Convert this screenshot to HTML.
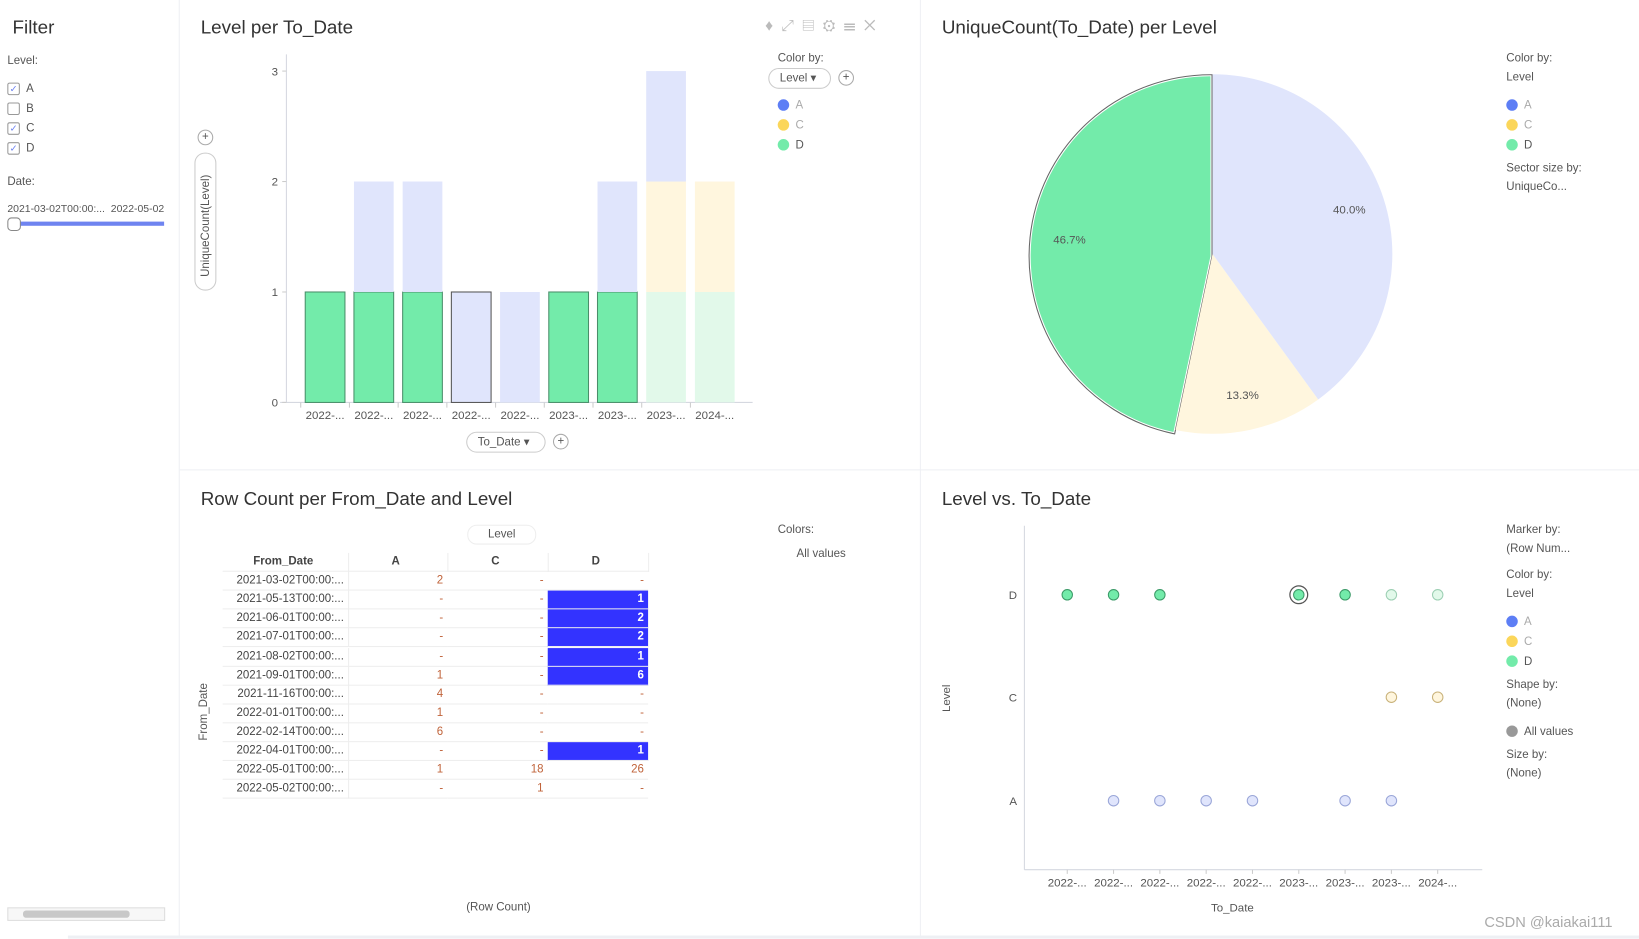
<!DOCTYPE html>
<html><head><meta charset="utf-8"><style>
body{margin:0;width:1639px;height:938px;background:#fff;font-family:"Liberation Sans",sans-serif;color:#555;position:relative;overflow:hidden}
#root{position:absolute;left:0;top:0;width:1568px;height:897px;transform:scale(1.0453);transform-origin:0 0}
.a{position:absolute;white-space:nowrap}
.t{font-size:18px;color:#333}
.s{font-size:11px}
.cb{position:absolute;width:10px;height:10px;border:1px solid #999;border-radius:2px;font-size:9px;color:#6a7ff0;line-height:10px;text-align:center}
.dot{position:absolute;width:11px;height:11px;border-radius:50%}
</style></head><body>
<div id="root">
<div class="a" style="left:171px;top:0;width:1px;height:895px;background:#eef0f4"></div>
<div class="a" style="left:880px;top:0;width:1px;height:895px;background:#eef0f4"></div>
<div class="a" style="left:172px;top:449px;width:1467px;height:1px;background:#eef0f4"></div>
<div class="a" style="left:65px;top:895px;width:1574px;height:3px;background:#eef0f4"></div>

<!-- Filter -->
<div class="a t" style="left:12px;top:16px">Filter</div>
<div class="a s" style="left:7px;top:52px">Level:</div>
<div class="cb" style="left:7px;top:79px">✓</div><div class="a s" style="left:25px;top:79px">A</div>
<div class="cb" style="left:7px;top:98px"></div><div class="a s" style="left:25px;top:98px">B</div>
<div class="cb" style="left:7px;top:117px">✓</div><div class="a s" style="left:25px;top:117px">C</div>
<div class="cb" style="left:7px;top:136px">✓</div><div class="a s" style="left:25px;top:136px">D</div>
<div class="a s" style="left:7px;top:168px">Date:</div>
<div class="a" style="left:7px;top:195px;font-size:10px">2021-03-02T00:00:...&nbsp; 2022-05-02</div>
<div class="a" style="left:14px;top:212px;width:143px;height:4px;background:#6f84f0"></div>
<div class="a" style="left:7px;top:208px;width:11px;height:11px;border:1px solid #888;border-radius:4px;background:#fff"></div>
<div class="a" style="left:7px;top:868px;width:149px;height:11px;border:1px solid #ddd;background:#f7f7f7"><div style="position:absolute;left:14px;top:2px;width:102px;height:7px;background:#c8c8c8;border-radius:3px"></div></div>

<!-- Bar chart -->
<div class="a t" style="left:192px;top:16px">Level per To_Date</div>
<div class="a" style="left:732px;top:16px;font-size:15px;color:#bbb;letter-spacing:8px">♦⤢▤⚙☰✕</div>
<div class="a s" style="left:744px;top:50px">Color by:</div>
<div class="a s" style="left:735px;top:65px;width:58px;height:18px;border:1px solid #ccc;border-radius:10px;line-height:18px;text-indent:10px">Level ▾</div>
<div class="a s" style="left:802px;top:67px;width:13px;height:13px;border:1px solid #aaa;border-radius:50%;text-align:center;line-height:13px">+</div>
<div class="dot" style="left:744px;top:95px;background:#5d7ef5"></div><div class="a s" style="left:761px;top:95px;color:#aaa">A</div>
<div class="dot" style="left:744px;top:114px;background:#fbd65a"></div><div class="a s" style="left:761px;top:114px;color:#aaa">C</div>
<div class="dot" style="left:744px;top:133px;background:#73ebaa"></div><div class="a s" style="left:761px;top:133px">D</div>
<div class="a s" style="left:446px;top:413px;width:74px;height:18px;border:1px solid #ccc;border-radius:10px;line-height:18px;text-indent:10px">To_Date ▾</div>
<div class="a s" style="left:529px;top:415px;width:13px;height:13px;border:1px solid #aaa;border-radius:50%;text-align:center;line-height:13px">+</div>
<div class="a s" style="left:189px;top:124px;width:13px;height:13px;border:1px solid #aaa;border-radius:50%;text-align:center;line-height:13px">+</div>
<div class="a" style="left:186px;top:146px;width:19px;height:130px;border:1px solid #ccc;border-radius:10px"></div>
<div class="a s" style="left:142px;top:210px;transform:rotate(-90deg);width:110px;text-align:center">UniqueCount(Level)</div>
<svg class="a" style="left:0;top:0" width="880" height="449" id="bar"></svg>

<!-- Pie -->
<div class="a t" style="left:901px;top:16px">UniqueCount(To_Date) per Level</div>
<svg class="a" style="left:881px;top:0" width="560" height="449" id="pie"></svg>
<div class="a s" style="left:1441px;top:50px">Color by:</div>
<div class="a s" style="left:1441px;top:68px">Level</div>
<div class="dot" style="left:1441px;top:95px;background:#5d7ef5"></div><div class="a s" style="left:1458px;top:95px;color:#aaa">A</div>
<div class="dot" style="left:1441px;top:114px;background:#fbd65a"></div><div class="a s" style="left:1458px;top:114px;color:#aaa">C</div>
<div class="dot" style="left:1441px;top:133px;background:#73ebaa"></div><div class="a s" style="left:1458px;top:133px">D</div>
<div class="a s" style="left:1441px;top:155px">Sector size by:</div>
<div class="a s" style="left:1441px;top:173px">UniqueCo...</div>

<!-- Table -->
<div class="a t" style="left:192px;top:467px">Row Count per From_Date and Level</div>
<div class="a s" style="left:447px;top:502px;width:64px;height:17px;border:1px solid #eee;border-radius:9px;text-align:center;line-height:17px">Level</div>
<div class="a s" style="left:744px;top:501px">Colors:</div>
<div class="a s" style="left:762px;top:524px">All values</div>
<div class="a s" style="left:160px;top:675px;transform:rotate(-90deg);width:70px;text-align:center">From_Date</div>
<div class="a s" style="left:446px;top:862px">(Row Count)</div>
<div id="tbl"></div>

<!-- Scatter -->
<div class="a t" style="left:901px;top:467px">Level vs. To_Date</div>
<svg class="a" style="left:881px;top:450px" width="560" height="440" id="sc"></svg>
<div class="a s" style="left:1441px;top:501px">Marker by:</div>
<div class="a s" style="left:1441px;top:519px">(Row Num...</div>
<div class="a s" style="left:1441px;top:544px">Color by:</div>
<div class="a s" style="left:1441px;top:562px">Level</div>
<div class="dot" style="left:1441px;top:589px;background:#5d7ef5"></div><div class="a s" style="left:1458px;top:589px;color:#aaa">A</div>
<div class="dot" style="left:1441px;top:608px;background:#fbd65a"></div><div class="a s" style="left:1458px;top:608px;color:#aaa">C</div>
<div class="dot" style="left:1441px;top:627px;background:#73ebaa"></div><div class="a s" style="left:1458px;top:627px">D</div>
<div class="a s" style="left:1441px;top:649px">Shape by:</div>
<div class="a s" style="left:1441px;top:667px">(None)</div>
<div class="dot" style="left:1441px;top:694px;background:#999"></div><div class="a s" style="left:1458px;top:694px">All values</div>
<div class="a s" style="left:1441px;top:716px">Size by:</div>
<div class="a s" style="left:1441px;top:734px">(None)</div>
<div class="a" style="left:1420px;top:874px;font-size:14px;color:#aaa">CSDN @kaiakai111</div>
</div>

<script>
const NS='http://www.w3.org/2000/svg';
function mk(p,tag,at){const e=document.createElementNS(NS,tag);for(const k in at)e.setAttribute(k,at[k]);p.appendChild(e);return e;}
// ---- bar data
const barCats=['2022-...','2022-...','2022-...','2022-...','2022-...','2023-...','2023-...','2023-...','2024-...'];
const barD=[1,1,1,0,0,1,1,1,1];
const barC=[0,0,0,0,0,0,0,1,1];
const barA=[0,1,1,1,1,0,1,1,0];
const barDFaded=[0,0,0,0,0,0,0,1,1];
const barTicks=[0,1,2,3];
// ---- pie data
const pieLabels=['D','C','A'];
const pieValues=[46.7,13.3,40.0];
// ---- table data
const tblDates=['2021-03-02T00:00:...','2021-05-13T00:00:...','2021-06-01T00:00:...','2021-07-01T00:00:...','2021-08-02T00:00:...','2021-09-01T00:00:...','2021-11-16T00:00:...','2022-01-01T00:00:...','2022-02-14T00:00:...','2022-04-01T00:00:...','2022-05-01T00:00:...','2022-05-02T00:00:...'];
const tblA=[2,null,null,null,null,1,4,1,6,null,1,null];
const tblC=[null,null,null,null,null,null,null,null,null,null,18,1];
const tblD=[null,1,2,2,1,6,null,null,null,1,26,null];
const tblHighlightD=[0,1,1,1,1,1,0,0,0,1,0,0];
// ---- scatter data
const scCats=['2022-...','2022-...','2022-...','2022-...','2022-...','2023-...','2023-...','2023-...','2024-...'];
const scLevels=['A','C','D'];
const scPoints=[[0,'D',1],[1,'D',1],[2,'D',1],[5,'D',2],[6,'D',1],[7,'D',0],[8,'D',0],[7,'C',0],[8,'C',0],[1,'A',0],[2,'A',0],[3,'A',0],[4,'A',0],[6,'A',0],[7,'A',0]];

// bar chart
(function(){
const s=document.getElementById('bar');
const x0=274,x1=720,y0=385,yTop=68,step=46.6,bw=38;
const y=v=>y0-v*(y0-yTop)/3;
const cx=i=>311+i*step;
mk(s,'line',{x1:x0,y1:52,x2:x0,y2:y0,stroke:'#d5d8e0'});
mk(s,'line',{x1:268,y1:y0,x2:x1,y2:y0,stroke:'#d5d8e0'});
barTicks.forEach(t=>{mk(s,'line',{x1:x0-4,y1:y(t),x2:x0,y2:y(t),stroke:'#ccc'});
 const tx=mk(s,'text',{x:x0-8,y:y(t)+4,'text-anchor':'end','font-size':11,fill:'#555','font-family':'Liberation Sans'});tx.textContent=t;
 
 });
barCats.forEach((c,i)=>{
 mk(s,'line',{x1:cx(i)-step/2,y1:y0,x2:cx(i)-step/2,y2:y0+5,stroke:'#ccc'});
 let b=0;
 const seg=(v,fill,stroke,name)=>{if(!v)return;const r=mk(s,'rect',{x:cx(i)-bw/2,y:y(b+v),width:bw,height:y(b)-y(b+v),fill:fill,stroke:stroke||'none'});
  
  b+=v;};
 seg(barD[i],barDFaded[i]?'#e2f9ea':'#73ebaa',barDFaded[i]?null:'#4a8f6a','bar-d-'+i);
 seg(barC[i],'#fff6de',null,'bar-c-'+i);
 seg(barA[i],'#e0e5fc',i===3?'#555':null,'bar-a-'+i);
 const tx=mk(s,'text',{x:cx(i),y:y0+16,'text-anchor':'middle','font-size':11,fill:'#555','font-family':'Liberation Sans'});tx.textContent=c;
 
 
});
})();

// pie
(function(){
const s=document.getElementById('pie');
const cx=279,cy=243,r=172;
const cols={D:'#73ebaa',C:'#fff6de',A:'#e0e5fc'};
const tot=pieValues.reduce((a,b)=>a+b,0);
let a=0;
const pt=(ang,rr,ox,oy)=>[cx+ox+rr*Math.sin(ang),cy+oy-rr*Math.cos(ang)];
pieLabels.forEach((l,i)=>{
 const sweep=pieValues[i]/tot*2*Math.PI;
 const a0=-a-sweep,a1=-a;
 const off=l==='D'?[-2,2]:[0,0];
 const p0=pt(a0,r,...off),p1=pt(a1,r,...off);
 const big=sweep>Math.PI?1:0;
 const d=`M${cx+off[0]},${cy+off[1]} L${p0[0]},${p0[1]} A${r},${r} 0 ${big} 1 ${p1[0]},${p1[1]} Z`;
 if(l==='D'){const p=mk(s,'path',{d:d,fill:'none',stroke:'#666','stroke-width':4});
  mk(s,'path',{d:d,fill:'none',stroke:'#fff','stroke-width':2});}
 const p=mk(s,'path',{d:d,fill:cols[l]});
 
 
 const mid=(a0+a1)/2;const lp=pt(mid,r*0.8,0,0);
 const tx=mk(s,'text',{x:lp[0],y:lp[1]+4,'text-anchor':'middle','font-size':11,fill:'#555','font-family':'Liberation Sans'});
 tx.textContent=pieValues[i].toFixed(1)+'%';
 
 
 a+=sweep;
});
})();

// table
(function(){
const host=document.getElementById('tbl');
const cols=[[213,120],[333,95],[428,96],[524,96]];
const top0=529,rh=18.1;
function cell(x,w,y,txt,align,extra,name){const d=document.createElement('div');d.className='a s';
 d.style.cssText=`left:${x}px;top:${y}px;width:${w-4}px;height:17px;line-height:17px;text-align:${align};padding-right:4px;border-bottom:1px solid #eee;${extra||''}`;
 d.textContent=txt;
 
 
 host.appendChild(d);}
['From_Date','A','C','D'].forEach((h,i)=>cell(cols[i][0],cols[i][1],top0,h,'center','font-weight:bold;color:#444;border-right:1px solid #eee','header-'+h.toLowerCase()));
const f=v=>v==null?'-':String(v);
tblDates.forEach((d,r)=>{const y=top0+(r+1)*rh;
 cell(cols[0][0],cols[0][1],y,d,'right','color:#444;border-right:1px solid #eee','row-date');
 cell(cols[1][0],cols[1][1],y,f(tblA[r]),'right','color:#c0633a','cell-a');
 cell(cols[2][0],cols[2][1],y,f(tblC[r]),'right','color:#c0633a','cell-c');
 cell(cols[3][0],cols[3][1],y,f(tblD[r]),'right',tblHighlightD[r]?'background:#3333ff;color:#fff;font-weight:bold':'color:#c0633a','cell-d');
});
})();

// scatter
(function(){
const s=document.getElementById('sc');
const ax=99,ay0=382,ayTop=53,axEnd=537;
const x=i=>140+i*44.3;
const yl={D:119,C:217,A:316};
mk(s,'line',{x1:ax,y1:ayTop,x2:ax,y2:ay0,stroke:'#d5d8e0'});
mk(s,'line',{x1:ax,y1:ay0,x2:axEnd,y2:ay0,stroke:'#d5d8e0'});
scLevels.forEach(l=>{const t=mk(s,'text',{x:ax-7,y:yl[l]+4,'text-anchor':'end','font-size':11,fill:'#555','font-family':'Liberation Sans'});t.textContent=l;
 
 });
scCats.forEach((c,i)=>{mk(s,'line',{x1:x(i),y1:ay0,x2:x(i),y2:ay0+4,stroke:'#ccc'});
 const t=mk(s,'text',{x:x(i),y:ay0+16,'text-anchor':'middle','font-size':11,fill:'#555','font-family':'Liberation Sans'});t.textContent=c;
 
 });
const ylab=mk(s,'text',{x:28,y:218,'text-anchor':'middle','font-size':11,fill:'#555','font-family':'Liberation Sans',transform:'rotate(-90 28 218)'});ylab.textContent='Level';


const xlab=mk(s,'text',{x:298,y:422,'text-anchor':'middle','font-size':11,fill:'#555','font-family':'Liberation Sans'});xlab.textContent='To_Date';


const col={D:['#73ebaa','#3c9a68','#e2f9ea','#9ccfb3'],C:['#fbd65a','#b59a30','#fff6de','#c9b27a'],A:['#e0e5fc','#9aa6d8','#e0e5fc','#9aa6d8']};
scPoints.forEach(p=>{const [i,l,st]=p;const c=col[l];const full=st>0;
 if(st===2)mk(s,'circle',{cx:x(i),cy:yl[l],r:8.5,fill:'#fff',stroke:'#555','stroke-width':1.2});
 const e=mk(s,'circle',{cx:x(i),cy:yl[l],r:5,fill:full?c[0]:c[2],stroke:full?c[1]:c[3]});
 
 });
})();
</script>
</body></html>
